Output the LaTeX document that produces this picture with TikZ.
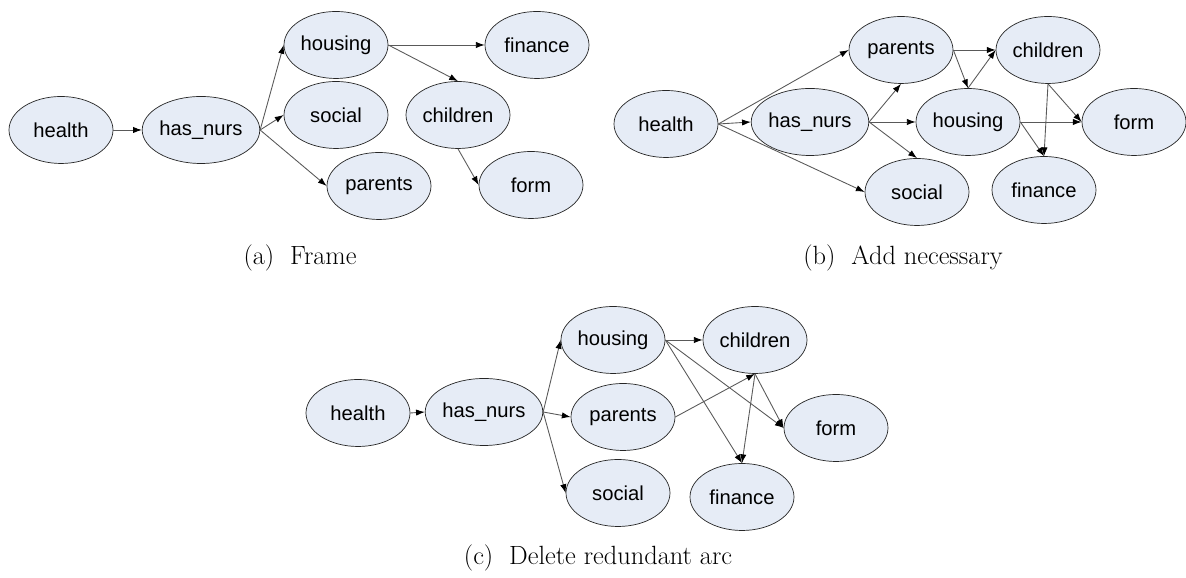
\documentclass[tikz,border=0pt]{standalone}
\usepackage{fontspec}
\usepackage{xcolor}
\usepackage{tikz}
\usetikzlibrary{shapes.geometric, arrows.meta}
\newfontfamily\labelfont{Liberation Sans}
\definecolor{netfill}{RGB}{230, 236, 246}

\begin{document}
\begin{tikzpicture}[
          var/.style={ellipse, draw=black!85, fill=netfill, minimum width=2.08cm, minimum height=1.34cm, inner sep=0pt, font=\labelfont\fontsize{11.5}{13}\selectfont},
          link/.style={-{Latex[length=5pt, width=3.6pt, color=black]}, draw=black!65, line width=0.5pt},
          subcap/.style={font=\fontsize{15}{18}\selectfont}
        ]
          \useasboundingbox (0, 0) rectangle (23.72, 11.56);

          % (a) frame
          \node[var] (healthA) at (1.22, 8.96) {health};
          \node[var] (nursA) at (4.02, 8.96) {has\_nurs};
          \node[var] (housingA) at (6.72, 10.66) {housing};
          \node[var] (socialA) at (6.72, 9.26) {social};
          \node[var] (parentsA) at (7.58, 7.84) {parents};
          \node[var] (childrenA) at (9.16, 9.26) {children};
          \node[var] (financeA) at (10.74, 10.66) {finance};
          \node[var] (formA) at (10.62, 7.86) {form};
          \node[subcap] (capA) at (6.00, 6.40) {(a)~ Frame};

          \draw[link] (healthA.east) -- (nursA.west);
          \draw[link] (nursA.east) -- (housingA.west);
          \draw[link] (nursA.east) -- (socialA.west);
          \draw[link] (nursA.east) -- (parentsA.west);
          \draw[link] (housingA.east) -- (financeA.west);
          \draw[link] (housingA.east) -- (childrenA.north);
          \draw[link] (childrenA.south) -- (formA.west);

          % (b) add necessary
          \node[var] (healthB) at (13.32, 9.08) {health};
          \node[var] (nursB) at (16.20, 9.12) {has\_nurs};
          \node[var] (parentsB) at (18.02, 10.56) {parents};
          \node[var] (housingB) at (19.36, 9.12) {housing};
          \node[var] (socialB) at (18.34, 7.72) {social};
          \node[var] (childrenB) at (20.96, 10.56) {children};
          \node[var] (formB) at (22.68, 9.12) {form};
          \node[var] (financeB) at (20.88, 7.76) {finance};
          \node[subcap] (capB) at (18.06, 6.40) {(b)~ Add necessary};

          \draw[link] (healthB.east) -- (parentsB.west);
          \draw[link] (healthB.east) -- (nursB.west);
          \draw[link] (healthB.east) -- (socialB.west);
          \draw[link] (nursB.east) -- (parentsB.south);
          \draw[link] (nursB.east) -- (housingB.west);
          \draw[link] (nursB.east) -- (socialB.north);
          \draw[link] (parentsB.east) -- (childrenB.west);
          \draw[link] (parentsB.east) -- (housingB.north);
          \draw[link] (housingB.north) -- (childrenB.west);
          \draw[link] (childrenB.south) -- (formB.west);
          \draw[link] (childrenB.south) -- (financeB.north);
          \draw[link] (housingB.east) -- (formB.west);
          \draw[link] (housingB.east) -- (financeB.north);

          % (c) delete redundant arc
          \node[var] (healthC) at (7.16, 3.30) {health};
          \node[var] (nursC) at (9.68, 3.32) {has\_nurs};
          \node[var] (housingC) at (12.26, 4.76) {housing};
          \node[var] (parentsC) at (12.46, 3.22) {parents};
          \node[var] (socialC) at (12.36, 1.70) {social};
          \node[var] (childrenC) at (15.10, 4.76) {children};
          \node[var] (formC) at (16.72, 3.00) {form};
          \node[var] (financeC) at (14.84, 1.62) {finance};
          \node[subcap] (capC) at (11.96, 0.40) {(c)~ Delete redundant arc};

          \draw[link] (healthC.east) -- (nursC.west);
          \draw[link] (nursC.east) -- (housingC.west);
          \draw[link] (nursC.east) -- (parentsC.west);
          \draw[link] (nursC.east) -- (socialC.west);
          \draw[link] (housingC.east) -- (childrenC.west);
          \draw[link] (housingC.east) -- (formC.west);
          \draw[link] (housingC.east) -- (financeC.north);
          \draw[link] (parentsC.east) -- (childrenC.south);
          \draw[link] (childrenC.south) -- (formC.west);
          \draw[link] (childrenC.south) -- (financeC.north);
        \end{tikzpicture}
\end{document}
